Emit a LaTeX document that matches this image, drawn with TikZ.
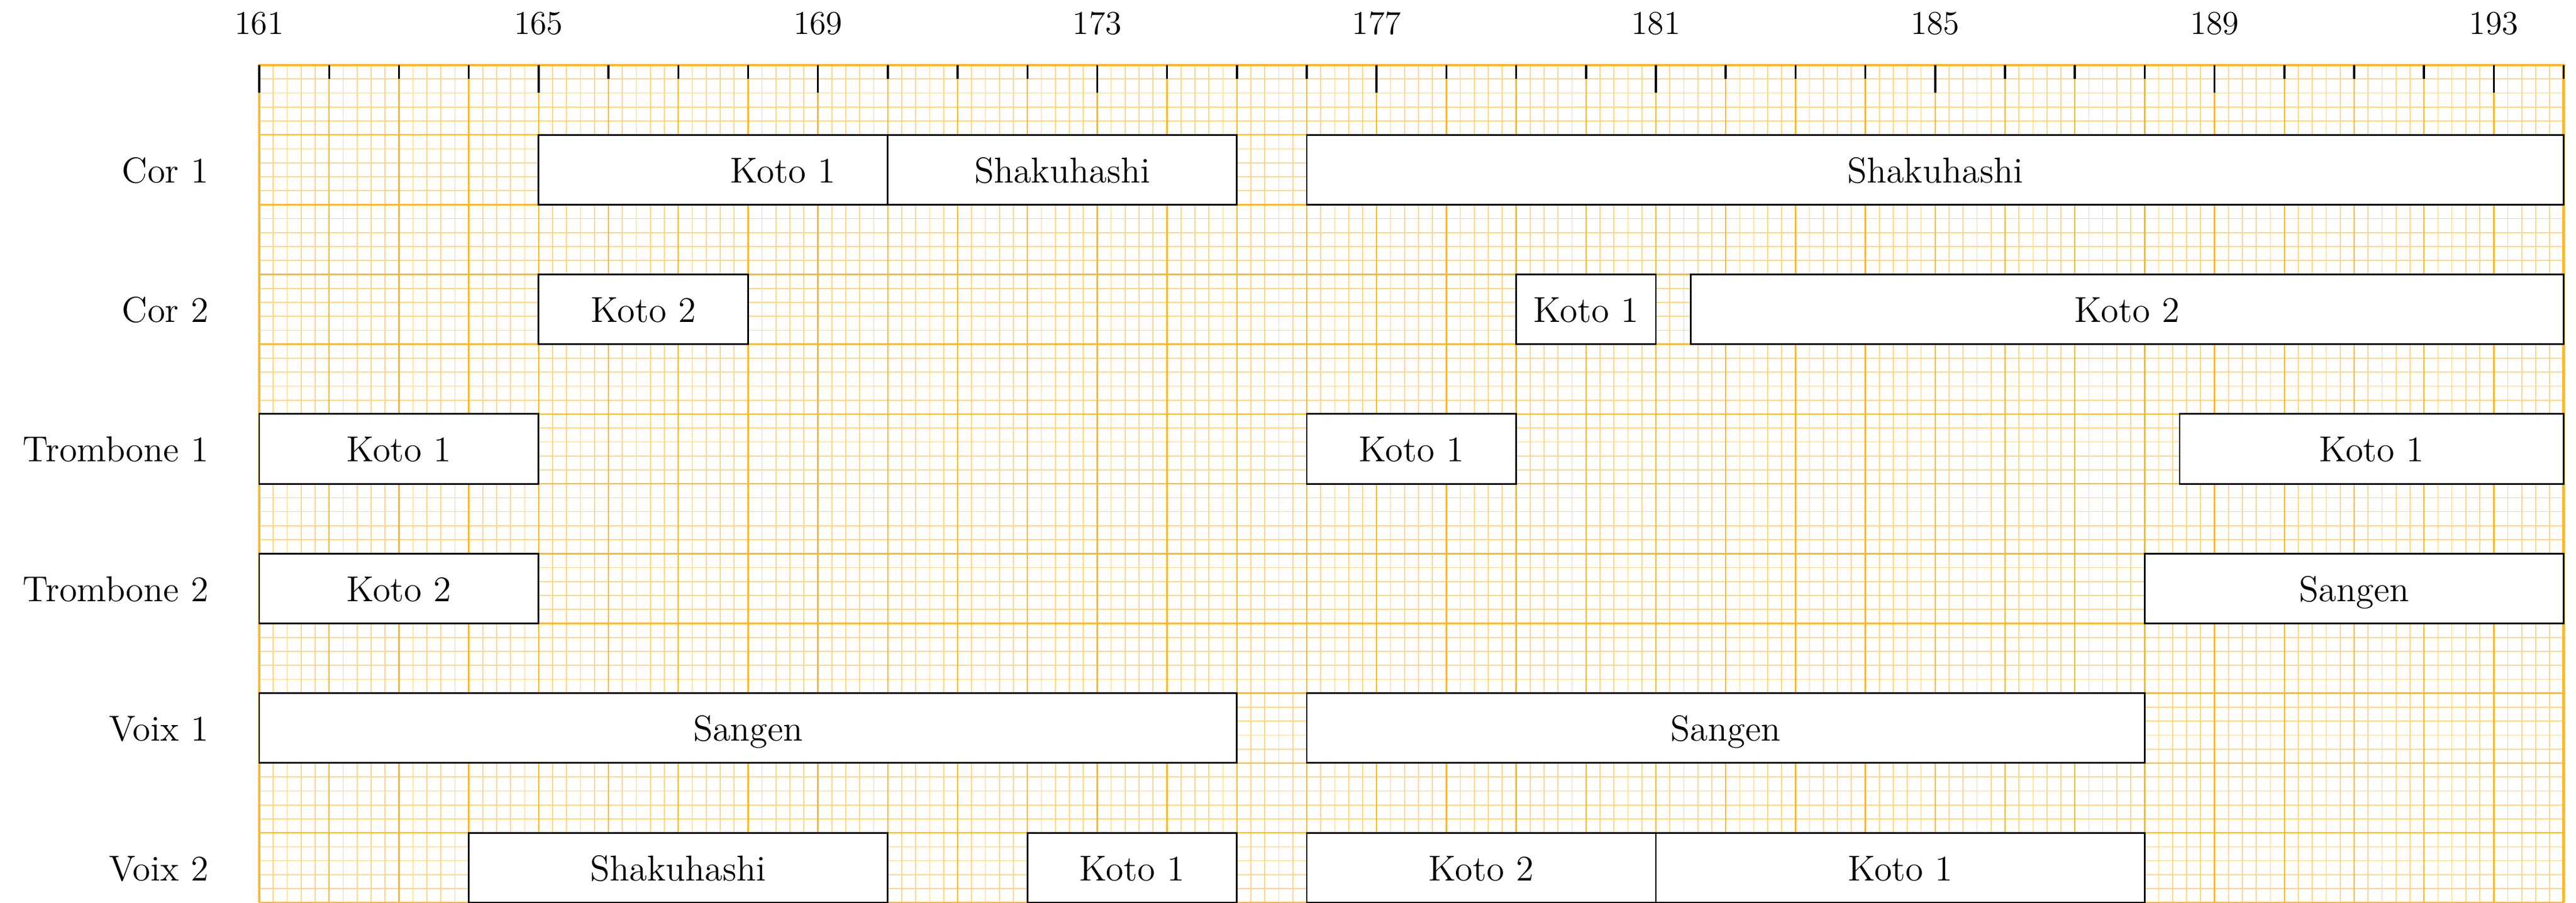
\documentclass[tikz,border=0pt]{standalone}
\usepackage{tikz}
\definecolor{gridmajor}{RGB}{252,184,45}
\definecolor{gridminor}{RGB}{255,214,135}
\begin{document}
\begin{tikzpicture}[
  seg/.style={draw=black, line width=0.7pt, fill=white, minimum height=1cm,
    inner sep=0pt, outer sep=0pt, anchor=north west,
    text height=0.37cm, text depth=0pt, font=\fontsize{14.7}{17}\selectfont},
  segtext/.style={anchor=base, inner sep=0pt, font=\fontsize{14.7}{17}\selectfont},
  rowlabel/.style={anchor=base east, inner sep=0pt, font=\fontsize{14.7}{17}\selectfont},
  num/.style={anchor=base, inner sep=0pt, font=\fontsize{13.6}{16}\selectfont},
  tickmark/.style={draw=black, line width=0.8pt}
]
\useasboundingbox (-3.713,-12) rectangle (33.177,0.932);
% grid
\draw[gridminor, line width=0.4pt] (0,-12) grid[step=0.2] (33,0);
\draw[gridmajor, line width=0.6pt] (0,-12) grid[step=1] (33,0);
\draw[gridmajor, line width=1pt] (0,-12) -- (0,0) -- (33,0) -- (33,-12);
% ticks and numbers
\foreach \i in {0,...,33} {
  \coordinate (t\i) at (\i,0);
  \coordinate (s\i) at (\i,-0.2);
  \draw[tickmark] (t\i) -- (s\i);
}
\foreach \i [evaluate=\i as \n using int(161+\i)] in {0,4,...,32} {
  \coordinate (l\i) at (\i,-0.4);
  \draw[tickmark] (t\i) -- (l\i);
  \node[num] (n\i) at (\i,0.44) {\n};
}
% row labels
\node[rowlabel] (r1) at (-0.72,-1.685) {Cor 1};
\node[rowlabel] (r2) at (-0.72,-3.685) {Cor 2};
\node[rowlabel] (r3) at (-0.72,-5.685) {Trombone 1};
\node[rowlabel] (r4) at (-0.72,-7.685) {Trombone 2};
\node[rowlabel] (r5) at (-0.72,-9.685) {Voix 1};
\node[rowlabel] (r6) at (-0.72,-11.685) {Voix 2};
% Cor 1
\node[seg, minimum width=5cm] (c1a) at (4,-1) {};
\node[segtext] (c1at) at (7.5,-1.685) {Koto 1};
\node[seg, minimum width=5cm] (c1b) at (9,-1) {Shakuhashi};
\node[seg, minimum width=18cm] (c1c) at (15,-1) {Shakuhashi};
% Cor 2
\node[seg, minimum width=3cm] (c2a) at (4,-3) {Koto 2};
\node[seg, minimum width=2cm] (c2b) at (18,-3) {Koto 1};
\node[seg, minimum width=12.5cm] (c2c) at (20.5,-3) {Koto 2};
% Trombone 1
\node[seg, minimum width=4cm] (t1a) at (0,-5) {Koto 1};
\node[seg, minimum width=3cm] (t1b) at (15,-5) {Koto 1};
\node[seg, minimum width=5.5cm] (t1c) at (27.5,-5) {Koto 1};
% Trombone 2
\node[seg, minimum width=4cm] (t2a) at (0,-7) {Koto 2};
\node[seg, minimum width=6cm] (t2b) at (27,-7) {Sangen};
% Voix 1
\node[seg, minimum width=14cm] (v1a) at (0,-9) {Sangen};
\node[seg, minimum width=12cm] (v1b) at (15,-9) {Sangen};
% Voix 2
\node[seg, minimum width=6cm] (v2a) at (3,-11) {Shakuhashi};
\node[seg, minimum width=3cm] (v2b) at (11,-11) {Koto 1};
\node[seg, minimum width=5cm] (v2c) at (15,-11) {Koto 2};
\node[seg, minimum width=7cm] (v2d) at (20,-11) {Koto 1};
\end{tikzpicture}
\end{document}
